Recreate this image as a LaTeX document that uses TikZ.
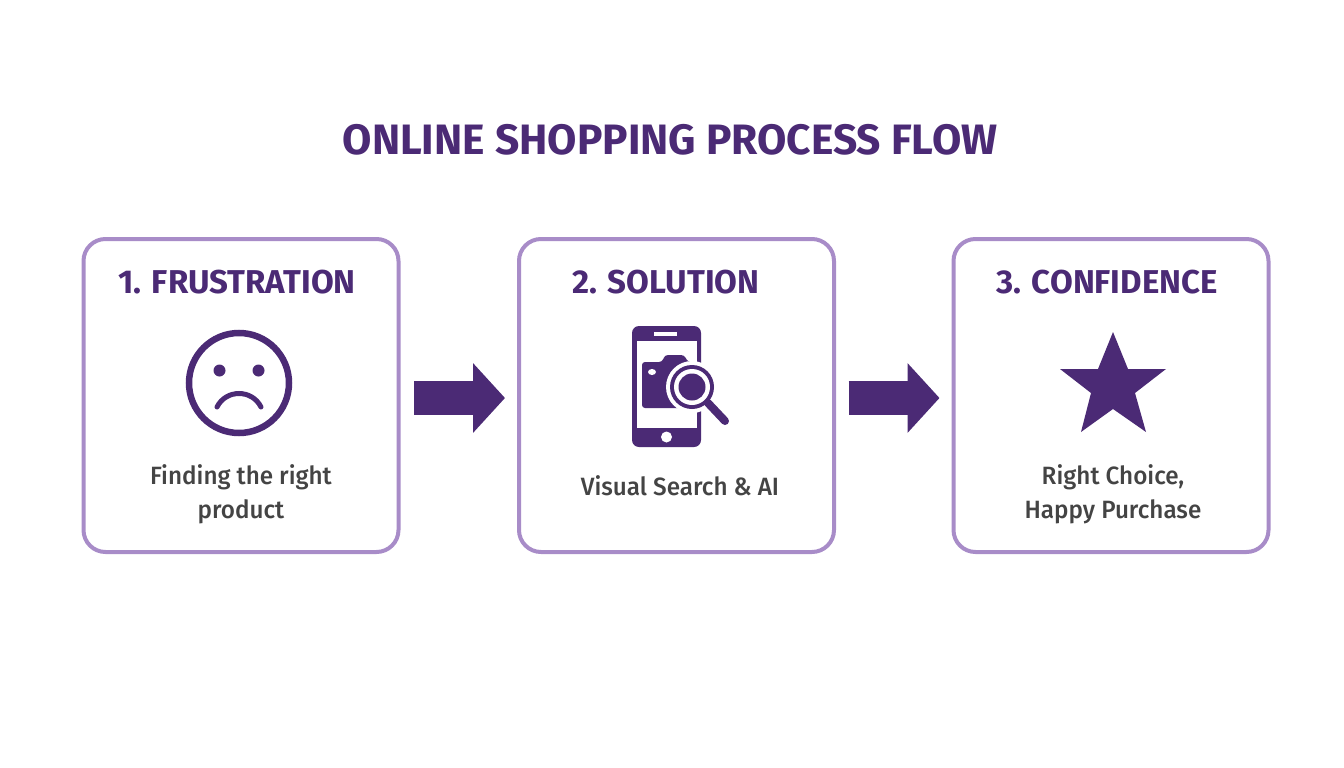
\documentclass[tikz,border=0pt]{standalone}
\usepackage{fontspec}
\setmainfont{Fira Sans}
\newfontfamily\captionfont[FakeStretch=0.97]{Fira Sans Medium}
\usetikzlibrary{arrows.meta,calc}
\definecolor{deep}{HTML}{4B2A75}
\definecolor{soft}{HTML}{A88CC8}
\definecolor{body}{HTML}{444444}
\tikzset{
  card/.style={draw=soft, line width=4pt, rounded corners=22pt, fill=white, minimum width=315pt, minimum height=313pt, outer sep=0pt},
  heading/.style={text=deep, font=\bfseries\fontsize{33}{36}\selectfont},
  caption/.style={text=body, align=center, font=\captionfont\fontsize{25}{34}\selectfont},
  flow/.style={draw=deep, line width=34pt, -{Triangle[length=32pt,width=68pt]}}
}
\begin{document}
\begin{tikzpicture}[x=1pt, y=-1pt]
\useasboundingbox (0,0) rectangle (1344,768);

\node[text=deep, font=\bfseries\fontsize{42.5}{48}\selectfont] at (670, 140) (TITLE) {ONLINE SHOPPING PROCESS FLOW};

\node[card] at (241, 395.5) (BOX_A) {};
\node[card] at (676.5, 395.5) (BOX_B) {};
\node[card] at (1111, 395.5) (BOX_C) {};

\node[heading] at (237, 282) (HEAD_A) {1. FRUSTRATION};
\node[heading] at (666, 282) (HEAD_B) {2. SOLUTION};
\node[heading] at (1107, 282) (HEAD_C) {3. CONFIDENCE};

\node[caption] at (241, 494) (TEXT_A) {Finding the right\\product};
\node[caption] at (680, 485.5) (TEXT_B) {Visual Search \& AI};
\node[caption] at (1113, 494) (TEXT_C) {Right Choice,\\Happy Purchase};

\draw[flow] ($(BOX_A.east)+(15.5,2.5)$) -- ($(BOX_B.west)+(-14,2.5)$);
\draw[flow] ($(BOX_B.east)+(14.5,2.5)$) -- ($(BOX_C.west)+(-14,2.5)$);

% sad face
\draw[deep, line width=6.5pt] (239, 383) circle (50);
\fill[deep] (219.5, 370.5) circle (6) (258.5, 370.5) circle (6);
\draw[deep, line width=5pt, line cap=round] (217, 407) .. controls (226, 389) and (252, 389) .. (261, 407);

% phone
\fill[deep, rounded corners=7pt] (632, 326) rectangle (701, 447);
\fill[white] (637, 341) rectangle (697, 428);
\fill[white] (654, 332) rectangle (677, 335.5);
\fill[white] (666.5, 437) circle (5.5);
\fill[deep, rounded corners=3pt] (642, 362) -- (662, 362) -- (665, 355) -- (684, 355) -- (688, 362) -- (700, 362) -- (700, 408) -- (642, 408) -- cycle;
\fill[white] (652, 372) ellipse (4 and 3);
\draw[white, line width=14pt, line cap=round] (708, 403) -- (725, 421);
\fill[white] (692, 387) circle (26);
\fill[deep] (692, 387) circle (22);
\fill[white] (692, 387) circle (18);
\fill[deep] (692, 387) circle (13.5);
\draw[deep, line width=8pt, line cap=round] (708, 403) -- (725, 421);

% star
\fill[deep] (1113, 332) -- (1128, 369) -- (1166, 369) -- (1135, 393) -- (1146, 432) -- (1113, 409) -- (1081, 432) -- (1091, 393) -- (1060, 369) -- (1098, 369) -- cycle;
\end{tikzpicture}
\end{document}
